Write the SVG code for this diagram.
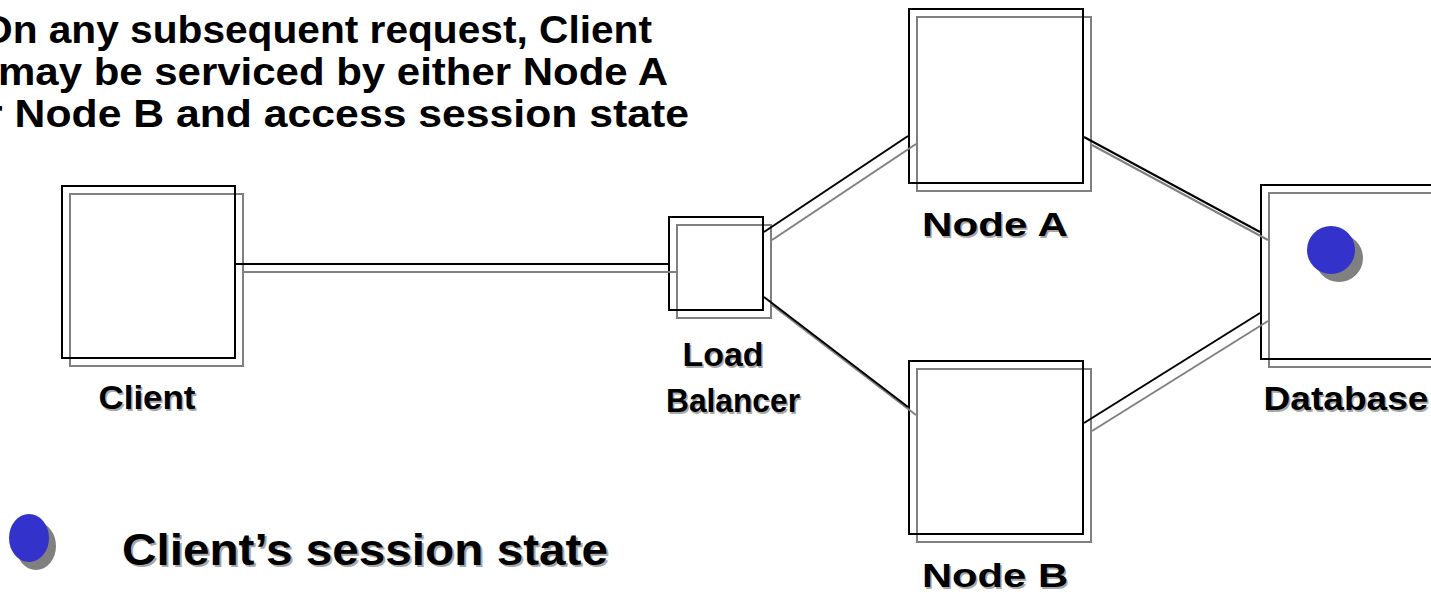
<svg xmlns="http://www.w3.org/2000/svg" width="1431" height="594" viewBox="0 0 1431 594">
  <style>
    .box { fill: none; stroke: #000; stroke-width: 2; }
    .box-sh { fill: none; stroke: #808080; stroke-width: 2; }
    .wire { stroke: #000; stroke-width: 2; }
    .wire-sh { stroke: #808080; stroke-width: 2; }
    .txt { font-family: "Liberation Sans", Arial, sans-serif; font-weight: bold; text-anchor: middle; fill: #000; }
    .lbl { font-size: 33px; }
    .sh { fill: #a8a8a8; }
    .dot { fill: #3333cc; }
    .dot-sh { fill: #808080; }
  </style>

  <rect width="1431" height="594" fill="#fff"/>

  <!-- Caption at the top left, running off the left edge -->
  <g id="caption" font-family="Liberation Sans, Arial, sans-serif" font-weight="bold" font-size="38" fill="#000">
    <text x="-19" y="43" textLength="671" lengthAdjust="spacingAndGlyphs">On any subsequent request, Client</text>
    <text x="-2" y="85" textLength="670" lengthAdjust="spacingAndGlyphs">may be serviced by either Node A</text>
    <text x="-40" y="127" textLength="729" lengthAdjust="spacingAndGlyphs">or Node B and access session state</text>
  </g>

  <!-- Nodes: a shadow outline offset by 8px, then the black outline -->
  <g id="client">
    <rect class="box-sh" x="70" y="194" width="173" height="172"/>
    <rect class="box" x="62" y="186" width="173" height="172"/>
    <text class="txt lbl sh" x="148.5" y="410.5" textLength="97" lengthAdjust="spacingAndGlyphs">Client</text>
    <text class="txt lbl" x="147" y="409" textLength="97" lengthAdjust="spacingAndGlyphs">Client</text>
  </g>

  <g id="load-balancer">
    <rect class="box-sh" x="677" y="225" width="94" height="93"/>
    <rect class="box" x="669" y="217" width="94" height="93"/>
    <text class="txt lbl sh" x="724.5" y="367.5" textLength="81" lengthAdjust="spacingAndGlyphs">Load</text>
    <text class="txt lbl" x="723" y="366" textLength="81" lengthAdjust="spacingAndGlyphs">Load</text>
    <text class="txt lbl sh" x="734.5" y="413.5" textLength="134" lengthAdjust="spacingAndGlyphs">Balancer</text>
    <text class="txt lbl" x="733" y="412" textLength="134" lengthAdjust="spacingAndGlyphs">Balancer</text>
  </g>

  <g id="node-a">
    <rect class="box-sh" x="917" y="17" width="174" height="174"/>
    <rect class="box" x="909" y="9" width="174" height="174"/>
    <text class="txt lbl sh" x="996.5" y="237.5" textLength="146" lengthAdjust="spacingAndGlyphs">Node A</text>
    <text class="txt lbl" x="995" y="236" textLength="146" lengthAdjust="spacingAndGlyphs">Node A</text>
  </g>

  <g id="node-b">
    <rect class="box-sh" x="917" y="369" width="174" height="173"/>
    <rect class="box" x="909" y="361" width="174" height="173"/>
    <text class="txt lbl sh" x="996.5" y="588.5" textLength="146" lengthAdjust="spacingAndGlyphs">Node B</text>
    <text class="txt lbl" x="995" y="587" textLength="146" lengthAdjust="spacingAndGlyphs">Node B</text>
  </g>

  <g id="database">
    <rect class="box-sh" x="1269" y="193" width="174" height="174"/>
    <rect class="box" x="1261" y="185" width="174" height="174"/>
    <circle class="dot-sh" cx="1339" cy="258" r="24"/>
    <circle class="dot" cx="1331" cy="250" r="24"/>
    <text class="txt lbl sh" x="1347.5" y="411.5" textLength="165" lengthAdjust="spacingAndGlyphs">Database</text>
    <text class="txt lbl" x="1346" y="410" textLength="165" lengthAdjust="spacingAndGlyphs">Database</text>
  </g>

  <!-- Connectors: shadow line first, black line on top -->
  <g id="connectors">
    <line class="wire-sh" x1="243" y1="272" x2="676" y2="272"/>
    <line class="wire-sh" x1="772" y1="240" x2="916" y2="144"/>
    <line class="wire-sh" x1="772" y1="305" x2="916" y2="415"/>
    <line class="wire-sh" x1="1092" y1="145" x2="1268" y2="240"/>
    <line class="wire-sh" x1="1092" y1="431" x2="1268" y2="321"/>

    <line class="wire" x1="235" y1="264" x2="668" y2="264"/>
    <line class="wire" x1="764" y1="232" x2="908" y2="136"/>
    <line class="wire" x1="764" y1="297" x2="908" y2="407"/>
    <line class="wire" x1="1084" y1="137" x2="1260" y2="232"/>
    <line class="wire" x1="1084" y1="423" x2="1260" y2="313"/>
  </g>

  <!-- Legend -->
  <g id="legend">
    <ellipse class="dot-sh" cx="36" cy="546" rx="20" ry="24"/>
    <ellipse class="dot" cx="29" cy="538" rx="20" ry="24"/>
    <text class="txt sh" x="367" y="567" font-size="45" textLength="486" lengthAdjust="spacingAndGlyphs">Client’s session state</text>
    <text class="txt" x="365" y="565" font-size="45" textLength="486" lengthAdjust="spacingAndGlyphs">Client’s session state</text>
  </g>
</svg>
